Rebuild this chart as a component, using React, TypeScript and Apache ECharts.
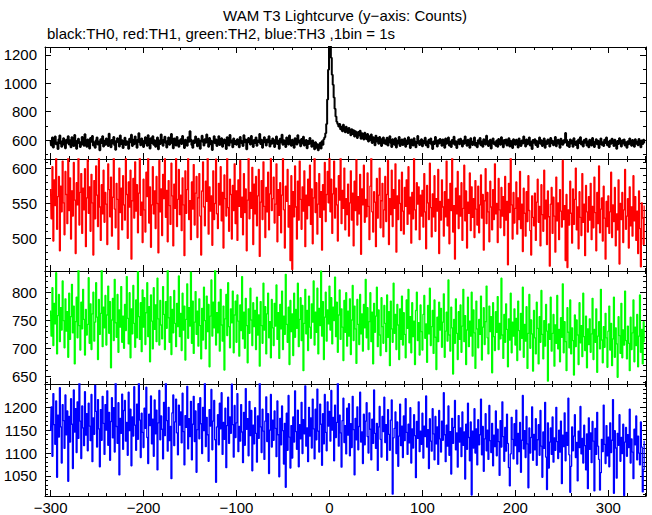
import React, { useEffect, useRef } from "react";
import * as echarts from "echarts";

// 1 bin = 1 s, first bin at t = -300 s
const X_START = -300;

// TH0 (black)
const th0 = [
  596, 561, 618, 547, 589, 624, 570, 583, 536, 605, 631, 574, 552, 593, 612, 565, 541, 601, 580, 627,
  568, 599, 549, 620, 582, 557, 635, 597, 538, 576, 609, 587, 550, 566, 622, 591, 560, 641, 579, 553,
  603, 571, 540, 615, 588, 629, 562, 584, 546, 598, 617, 569, 590, 528, 606, 578, 626, 555, 595, 566,
  611, 580, 558, 644, 586, 548, 600, 575, 621, 563, 532, 594, 613, 582, 554, 632, 572, 599, 543, 587,
  616, 564, 592, 577, 539, 608, 585, 637, 558, 602, 570, 625, 581, 545, 604, 648, 583, 563, 611, 589,
  551, 597, 620, 574, 560, 633, 590, 540, 612, 578, 627, 566, 599, 553, 588, 618, 535, 596, 572, 639,
  584, 559, 604, 623, 579, 547, 595, 617, 567, 590, 642, 576, 542, 610, 585, 561, 621, 598, 552, 583,
  606, 571, 628, 593, 544, 601, 580, 560, 619, 587, 662, 603, 564, 546, 596, 578, 624, 584, 556, 609,
  575, 538, 599, 630, 586, 561, 605, 581, 638, 592, 553, 615, 570, 595, 530, 587, 626, 577, 603, 558,
  598, 627, 565, 588, 613, 552, 581, 604, 574, 537, 619, 590, 561, 636, 583, 597, 548, 610, 571, 593,
  566, 606, 586, 549, 622, 596, 575, 557, 633, 585, 603, 534, 580, 614, 590, 568, 628, 587, 551, 600,
  578, 617, 560, 596, 586, 643, 571, 601, 545, 590, 620, 580, 562, 604, 584, 627, 555, 595, 573, 611,
  586, 550, 601, 625, 572, 594, 539, 609, 582, 637, 566, 598, 577, 551, 618, 589, 569, 631, 584, 559,
  602, 580, 546, 612, 588, 568, 634, 583, 597, 556, 607, 576, 623, 562, 586, 600, 541, 593, 572, 614,
  576, 553, 596, 560, 535, 585, 545, 570, 528, 556, 579, 540, 592, 566, 606, 620, 648, 712, 885, 1095,
  1310, 1290, 1180, 1060, 990, 900, 820, 765, 728, 712, 695, 712, 676, 694, 662, 708, 671, 655, 693, 666,
  650, 684, 658, 633, 675, 642, 669, 625, 661, 638, 614, 657, 631, 665, 609, 648, 622, 603, 651, 618,
  605, 643, 589, 627, 598, 638, 578, 620, 594, 563, 630, 590, 614, 574, 622, 585, 557, 609, 617, 576,
  599, 570, 616, 561, 593, 627, 578, 551, 606, 584, 566, 613, 547, 597, 576, 621, 558, 591, 603, 564,
  588, 610, 553, 596, 571, 620, 580, 543, 603, 584, 561, 612, 591, 549, 576, 628, 597, 565, 583, 606,
  556, 595, 577, 616, 563, 589, 549, 602, 579, 611, 566, 537, 590, 572, 621, 582, 554, 599, 575, 607,
  581, 559, 604, 583, 546, 610, 573, 595, 617, 562, 587, 551, 600, 576, 623, 566, 591, 543, 580, 603,
  570, 608, 586, 555, 597, 574, 625, 579, 559, 601, 584, 545, 612, 592, 565, 585, 618, 561, 578, 549,
  599, 576, 614, 563, 589, 553, 606, 582, 569, 630, 594, 558, 580, 602, 540, 590, 611, 572, 584, 560,
  596, 552, 607, 581, 566, 619, 587, 548, 600, 575, 604, 562, 586, 613, 555, 594, 578, 543, 606, 582,
  566, 601, 588, 547, 611, 580, 558, 596, 575, 624, 585, 554, 604, 570, 590, 617, 562, 587, 536, 600,
  581, 606, 565, 593, 551, 586, 618, 573, 598, 557, 585, 610, 546, 591, 571, 603, 580, 554, 614, 577,
  594, 563, 587, 621, 556, 583, 602, 572, 545, 608, 588, 566, 598, 580, 650, 601, 560, 586, 550, 604,
  575, 597, 553, 612, 585, 564, 591, 541, 603, 578, 620, 568, 588, 555, 600, 581, 609, 561, 589, 548,
  602, 577, 562, 614, 590, 551, 583, 605, 570, 595, 544, 587, 611, 566, 585, 557, 601, 578, 618, 563,
  588, 550, 597, 574, 608, 581, 558, 601, 586, 539, 593, 571, 612, 580, 555, 598, 575, 604, 561, 585,
  546, 592, 570, 610, 583, 559, 600, 578, 552, 605, 574, 589, 563, 607, 582, 549, 596, 571, 602, 577,
];

// TH1 (red)
const th1 = [
  571, 528, 603, 496, 584, 547, 622, 513, 560, 589, 482, 575, 538, 611, 551, 505, 596, 563, 521, 617,
  540, 587, 499, 568, 532, 609, 555, 478, 580, 548, 626, 519, 566, 593, 507, 572, 541, 600, 488, 558,
  613, 536, 574, 510, 592, 551, 476, 583, 528, 604, 562, 517, 619, 545, 497, 577, 535, 598, 523, 566,
  549, 491, 607, 570, 531, 588, 503, 559, 624, 542, 515, 579, 556, 484, 601, 537, 572, 512, 590, 548,
  526, 618, 563, 500, 581, 545, 598, 470, 554, 586, 529, 610, 539, 577, 508, 565, 621, 533, 552, 494,
  585, 541, 509, 595, 560, 627, 522, 574, 487, 548, 603, 535, 568, 514, 589, 550, 479, 612, 538, 571,
  504, 592, 557, 616, 530, 569, 495, 583, 547, 520, 608, 561, 489, 578, 543, 625, 517, 556, 599, 534,
  562, 511, 587, 548, 475, 597, 536, 570, 615, 527, 554, 498, 581, 542, 606, 519, 565, 589, 501, 558,
  593, 532, 476, 568, 610, 545, 518, 582, 553, 629, 506, 574, 539, 561, 490, 597, 527, 550, 614, 535,
  514, 579, 548, 603, 525, 566, 486, 591, 557, 532, 618, 544, 510, 585, 563, 499, 576, 540, 607, 521,
  568, 497, 584, 546, 612, 530, 559, 505, 593, 537, 571, 482, 555, 620, 528, 566, 543, 602, 491, 578,
  535, 589, 518, 561, 599, 474, 552, 583, 527, 610, 546, 501, 573, 538, 595, 512, 564, 629, 540, 557,
  588, 522, 549, 607, 495, 570, 533, 580, 508, 562, 617, 541, 486, 575, 553, 599, 516, 547, 468, 590,
  455, 567, 531, 604, 545, 499, 582, 526, 611, 556, 513, 574, 539, 597, 488, 562, 528, 585, 547, 605,
  520, 571, 492, 558, 616, 537, 580, 506, 549, 593, 530, 567, 483, 577, 541, 609, 524, 563, 596, 551,
  622, 538, 585, 507, 564, 611, 529, 572, 548, 496, 590, 555, 618, 521, 569, 543, 601, 512, 557, 534,
  578, 503, 551, 597, 526, 565, 489, 582, 540, 613, 519, 560, 535, 592, 477, 571, 548, 605, 523, 556,
  531, 594, 546, 498, 575, 620, 538, 509, 567, 552, 488, 586, 529, 562, 601, 515, 554, 579, 502, 541,
  589, 524, 563, 612, 491, 557, 534, 598, 517, 570, 543, 607, 480, 561, 527, 584, 550, 511, 595, 539,
  506, 573, 546, 584, 520, 603, 535, 559, 493, 566, 528, 616, 541, 512, 580, 549, 574, 498, 562, 532,
  569, 516, 593, 538, 485, 576, 551, 527, 608, 544, 502, 564, 531, 590, 510, 557, 539, 599, 478, 553,
  526, 584, 545, 503, 567, 531, 611, 518, 556, 492, 579, 540, 621, 509, 547, 470, 572, 535, 596, 514,
  561, 532, 580, 497, 543, 605, 525, 568, 486, 552, 536, 594, 511, 574, 530, 557, 501, 583, 542, 519,
  575, 508, 548, 591, 529, 563, 483, 554, 600, 521, 566, 538, 495, 582, 545, 512, 570, 527, 607, 535,
  550, 494, 586, 541, 515, 573, 532, 560, 504, 589, 526, 553, 462, 579, 537, 624, 548, 499, 566, 522,
  543, 581, 506, 558, 527, 596, 514, 549, 481, 572, 536, 503, 567, 524, 590, 540, 511, 476, 561, 530,
  518, 565, 497, 552, 585, 523, 546, 489, 577, 534, 510, 598, 528, 555, 491, 568, 531, 460, 549, 573,
  507, 559, 532, 480, 588, 525, 551, 498, 570, 539, 516, 612, 527, 547, 468, 563, 458, 541, 519, 582,
  536, 493, 571, 520, 556, 601, 512, 545, 485, 567, 530, 504, 593, 523, 549, 475, 576, 538, 509, 560,
  526, 579, 498, 546, 515, 588, 537, 482, 566, 521, 604, 508, 542, 558, 496, 575, 529, 470, 553, 517,
  561, 507, 538, 595, 501, 548, 524, 573, 489, 535, 512, 584, 463, 550, 527, 566, 494, 541, 599, 513,
  532, 557, 486, 574, 518, 545, 503, 590, 525, 560, 497, 539, 478, 568, 514, 459, 551, 529, 491, 547,
];

// TH2 (green)
const th2 = [
  768, 722, 809, 705, 781, 744, 836, 690, 759, 797, 712, 773, 733, 821, 750, 701, 789, 731, 766, 684,
  799, 716, 757, 815, 728, 776, 672, 748, 792, 719, 841, 741, 697, 783, 735, 806, 752, 688, 770, 724,
  743, 827, 709, 780, 698, 762, 801, 713, 747, 818, 756, 680, 788, 725, 763, 845, 703, 774, 737, 795,
  706, 760, 812, 727, 784, 665, 751, 790, 714, 824, 746, 720, 797, 693, 769, 738, 811, 711, 758, 700,
  779, 732, 829, 754, 708, 800, 683, 771, 726, 813, 745, 702, 787, 719, 838, 757, 716, 782, 694, 805,
  738, 791, 707, 764, 818, 721, 775, 676, 796, 749, 699, 809, 734, 778, 712, 826, 753, 706, 786, 742,
  717, 811, 761, 698, 784, 736, 849, 755, 711, 793, 689, 770, 728, 804, 745, 703, 781, 739, 830, 721,
  763, 696, 799, 733, 776, 679, 752, 816, 718, 773, 740, 837, 709, 785, 691, 747, 802, 725, 767, 704,
  789, 741, 681, 772, 715, 810, 750, 699, 794, 730, 779, 667, 758, 823, 722, 783, 737, 842, 706, 764,
  728, 783, 695, 806, 742, 713, 776, 661, 753, 797, 723, 818, 739, 701, 771, 746, 803, 692, 760, 785,
  711, 796, 749, 686, 778, 732, 829, 717, 765, 700, 790, 741, 674, 771, 727, 808, 751, 705, 782, 739,
  768, 698, 792, 724, 760, 668, 784, 741, 709, 817, 733, 775, 690, 762, 799, 719, 748, 683, 788, 737,
  705, 781, 740, 814, 716, 764, 682, 779, 735, 803, 698, 758, 725, 833, 743, 711, 774, 671, 786, 730,
  762, 687, 799, 720, 770, 736, 817, 703, 752, 791, 714, 777, 660, 745, 806, 726, 768, 696, 794, 738,
  718, 780, 747, 821, 706, 765, 729, 808, 690, 772, 741, 839, 722, 784, 680, 756, 801, 713, 769, 744,
  812, 733, 791, 708, 774, 750, 828, 721, 783, 693, 760, 805, 716, 771, 738, 678, 786, 729, 800, 704,
  767, 722, 789, 689, 751, 813, 714, 776, 735, 673, 788, 743, 707, 797, 726, 762, 695, 779, 737, 824,
  719, 773, 698, 748, 800, 712, 765, 672, 781, 729, 758, 810, 703, 769, 724, 687, 791, 739, 709, 777,
  745, 694, 796, 720, 766, 669, 785, 735, 711, 817, 727, 761, 698, 779, 742, 680, 771, 716, 794, 706,
  764, 725, 683, 787, 736, 806, 710, 757, 692, 782, 721, 749, 671, 768, 801, 714, 746, 688, 778, 730,
  697, 761, 795, 718, 744, 675, 777, 726, 808, 705, 739, 768, 691, 787, 720, 662, 756, 712, 783, 733,
  772, 702, 747, 798, 684, 731, 765, 713, 823, 724, 695, 774, 737, 654, 752, 709, 789, 727, 680, 766,
  716, 778, 693, 740, 806, 712, 759, 671, 733, 792, 703, 749, 722, 801, 686, 769, 728, 664, 785, 735,
  701, 752, 725, 794, 679, 738, 773, 707, 748, 812, 719, 690, 776, 730, 757, 656, 782, 721, 696, 766,
  729, 793, 698, 745, 717, 826, 724, 682, 761, 711, 780, 734, 667, 753, 715, 799, 692, 747, 722, 771,
  706, 754, 678, 785, 732, 697, 763, 718, 810, 684, 743, 713, 775, 664, 727, 797, 700, 751, 726, 659,
  768, 719, 690, 783, 736, 672, 757, 711, 804, 725, 681, 750, 704, 779, 731, 641, 744, 716, 792, 695,
  727, 761, 668, 742, 709, 795, 699, 734, 676, 755, 720, 816, 692, 748, 712, 660, 773, 729, 701, 787,
  690, 737, 714, 652, 760, 703, 751, 724, 671, 782, 710, 741, 685, 799, 721, 696, 758, 665, 735, 707,
  753, 693, 726, 790, 680, 734, 711, 771, 657, 722, 748, 699, 806, 715, 674, 739, 702, 763, 719, 666,
  731, 776, 697, 745, 669, 717, 792, 684, 737, 708, 648, 757, 723, 691, 781, 683, 733, 706, 803, 714,
  681, 740, 709, 660, 756, 698, 728, 787, 676, 738, 705, 761, 667, 722, 796, 693, 734, 672, 748, 711,
];

// TH3 (blue)
const th3 = [
  1148, 1201, 1093, 1230, 1162, 1119, 1214, 1047, 1183, 1135, 1243, 1157, 1078, 1206, 1171, 1110, 1227, 1140, 1192, 1038,
  1180, 1124, 1219, 1163, 1066, 1238, 1146, 1197, 1101, 1212, 1132, 1256, 1170, 1088, 1203, 1155, 1116, 1234, 1139, 1186,
  1105, 1209, 1159, 1127, 1228, 1081, 1177, 1141, 1248, 1191, 1113, 1217, 1153, 1070, 1195, 1128, 1224, 1165, 1097, 1206,
  1150, 1236, 1117, 1189, 1084, 1169, 1221, 1133, 1199, 1102, 1262, 1158, 1121, 1210, 1052, 1176, 1143, 1229, 1108, 1193,
  1215, 1126, 1167, 1095, 1233, 1149, 1196, 1072, 1179, 1137, 1245, 1161, 1106, 1207, 1130, 1270, 1172, 1090, 1187, 1145,
  1112, 1198, 1154, 1244, 1134, 1077, 1185, 1160, 1225, 1120, 1174, 1093, 1216, 1142, 1194, 1063, 1166, 1237, 1129, 1181,
  1152, 1087, 1211, 1138, 1254, 1171, 1104, 1200, 1127, 1158, 1044, 1188, 1227, 1116, 1168, 1218, 1144, 1096, 1205, 1161,
  1190, 1122, 1231, 1147, 1074, 1182, 1156, 1246, 1109, 1175, 1136, 1213, 1085, 1163, 1224, 1125, 1192, 1058, 1151, 1208,
  1131, 1221, 1164, 1099, 1200, 1149, 1265, 1114, 1178, 1140, 1082, 1195, 1159, 1239, 1107, 1170, 1215, 1129, 1036, 1157,
  1184, 1118, 1209, 1153, 1232, 1097, 1167, 1130, 1198, 1068, 1160, 1222, 1121, 1179, 1143, 1251, 1162, 1091, 1204, 1134,
  1166, 1230, 1103, 1158, 1126, 1206, 1146, 1079, 1189, 1117, 1241, 1152, 1175, 1094, 1213, 1138, 1193, 1061, 1161, 1120,
  1199, 1143, 1080, 1181, 1132, 1258, 1157, 1101, 1196, 1148, 1086, 1170, 1223, 1125, 1186, 1055, 1150, 1228, 1113, 1172,
  1128, 1192, 1154, 1092, 1214, 1140, 1048, 1176, 1118, 1203, 1149, 1076, 1165, 1025, 1187, 1106, 1226, 1135, 1067, 1160,
  1089, 1179, 1124, 1236, 1147, 1108, 1194, 1070, 1162, 1131, 1211, 1099, 1173, 1142, 1247, 1115, 1155, 1081, 1200, 1137,
  1177, 1111, 1218, 1153, 1087, 1196, 1129, 1240, 1148, 1102, 1207, 1163, 1073, 1186, 1120, 1228, 1145, 1105, 1212, 1159,
  1191, 1126, 1237, 1150, 1178, 1083, 1205, 1134, 1167, 1255, 1115, 1183, 1144, 1069, 1171, 1220, 1123, 1160, 1098, 1198,
  1139, 1208, 1094, 1164, 1112, 1224, 1151, 1052, 1176, 1129, 1201, 1107, 1158, 1233, 1124, 1146, 1077, 1185, 1118, 1170,
  1210, 1136, 1100, 1188, 1152, 1085, 1174, 1121, 1238, 1143, 1110, 1165, 1062, 1157, 1202, 1130, 1091, 1180, 1147, 1222,
  1123, 1162, 1084, 1195, 1141, 1106, 1172, 1216, 1010, 1133, 1154, 1190, 1099, 1168, 1071, 1137, 1207, 1116, 1159, 1090,
  1181, 1127, 1219, 1145, 1097, 1163, 1122, 1199, 1078, 1153, 1111, 1184, 1138, 1046, 1169, 1132, 1212, 1103, 1148, 1119,
  1187, 1089, 1159, 1136, 1225, 1113, 1151, 1066, 1175, 1126, 1104, 1197, 1142, 1085, 1180, 1120, 1157, 1075, 1193, 1131,
  1102, 1170, 1128, 1232, 1140, 1081, 1161, 1115, 1203, 1095, 1147, 1054, 1176, 1121, 1156, 1215, 1107, 1144, 1069, 1182,
  1124, 1155, 1092, 1190, 1117, 1146, 1043, 1163, 1108, 1209, 1134, 1083, 1168, 1008, 1148, 1111, 1197, 1100, 1153, 1074,
  1173, 1118, 1140, 1218, 1096, 1158, 1060, 1131, 1186, 1105, 1150, 1086, 1204, 1127, 1101, 1165, 1072, 1139, 1114, 1192,
  1094, 1152, 1125, 1051, 1171, 1113, 1212, 1136, 1082, 1156, 1104, 1185, 1121, 1068, 1028, 1098, 1178, 1130, 1087, 1164,
  1116, 1194, 1076, 1143, 1103, 1167, 1058, 1128, 1226, 1109, 1149, 1090, 1180, 1120, 1024, 1155, 1100, 1134, 1201, 1084,
  1141, 1107, 1175, 1073, 1129, 1162, 1095, 1193, 1115, 1047, 1146, 1110, 1211, 1091, 1020, 1166, 1067, 1124, 1155, 1097,
  1179, 1080, 1133, 1106, 1200, 1125, 1088, 1150, 1102, 1170, 1033, 1139, 1114, 1188, 1083, 1145, 1117, 1220, 1096, 1014,
  1071, 1157, 1105, 1137, 1184, 1090, 1123, 1039, 1148, 1112, 1202, 1098, 1132, 1078, 1161, 1116, 1063, 1142, 1022, 1177,
  1108, 1144, 1079, 1169, 1126, 1017, 1154, 1097, 1189, 1115, 1086, 1019, 1057, 1130, 1103, 1205, 1119, 1077, 1160, 1094,
  1135, 1070, 1166, 1101, 1128, 1217, 1012, 1149, 1111, 1045, 1143, 1117, 1184, 1082, 1134, 1099, 1163, 1007, 1124, 1156,
  1093, 1140, 1112, 1196, 1078, 1131, 1102, 1044, 1152, 1118, 1181, 1085, 1137, 1100, 1074, 1168, 1113, 1015, 1064, 1127,
];

// Axis ticks / labels
const xTickLabels = [-300, -200, -100, 0, 100, 200, 300];
const y0Ticks = [600, 800, 1000, 1200];
const y1Ticks = [500, 550, 600];
const y2Ticks = [650, 700, 750, 800];
const y3Ticks = [1050, 1100, 1150, 1200];

const TITLE = "WAM T3 Lightcurve (y\u2212axis: Counts)";
const SUBTITLE = "black:TH0, red:TH1, green:TH2, blue:TH3 ,1bin = 1s";

const FONT = "'Liberation Sans', Arial, Helvetica, sans-serif";
const X_MIN = -306;
const X_MAX = 340.5;

function range(a: number, b: number, step: number) {
  const out: number[] = [];
  for (let v = a; v <= b + 1e-9; v += step) out.push(v);
  return out;
}

const panels = [
  { name: "TH0", data: th0, color: "#000000", width: 2, min: 466, max: 1256, major: y0Ticks, minor: range(500, 1200, 100), top: 47, height: 112 },
  { name: "TH1", data: th1, color: "#ff0000", width: 1.3, min: 453, max: 614, major: y1Ticks, minor: range(460, 610, 10), top: 159, height: 112 },
  { name: "TH2", data: th2, color: "#00ff00", width: 1.3, min: 636, max: 839, major: y2Ticks, minor: range(640, 830, 10), top: 271, height: 113 },
  { name: "TH3", data: th3, color: "#0000ff", width: 1.3, min: 1006, max: 1251, major: y3Ticks, minor: range(1010, 1250, 10), top: 384, height: 112 },
];

const minus = (v: number) => String(v).replace("-", "\u2212");
const plain = (v: number) => String(v);

export default function App() {
  const ref = useRef<HTMLDivElement>(null);
  useEffect(() => {
    if (!ref.current) return;
    const chart = echarts.init(ref.current, undefined, { renderer: "svg" });
    const xMinor = range(-300, 340, 20);
    const grids: any[] = [];
    const xAxes: any[] = [];
    const yAxes: any[] = [];
    const series: any[] = [];
    const line = { show: true, onZero: false, lineStyle: { color: "#000", width: 1 } };
    const noLine = { show: false, onZero: false };
    panels.forEach((p, g) => {
      const last = g === panels.length - 1;
      grids.push({ left: 45, right: 6, top: p.top, height: p.height, containLabel: false });
      const xc = { gridIndex: g, type: "value", min: X_MIN, max: X_MAX, splitLine: { show: false } };
      xAxes.push({
        ...xc, position: "bottom", axisLine: line,
        axisTick: { show: true, inside: true, length: 6, customValues: xTickLabels, lineStyle: { color: "#000" } },
        axisLabel: { show: last, customValues: xTickLabels, formatter: minus, color: "#000", fontSize: 15, fontFamily: FONT, margin: 4 },
      });
      xAxes.push({
        ...xc, position: "top", axisLine: line,
        axisTick: { show: true, inside: true, length: 6, customValues: xTickLabels, lineStyle: { color: "#000" } },
        axisLabel: { show: false },
      });
      xAxes.push({
        ...xc, position: "bottom", axisLine: noLine,
        axisTick: { show: true, inside: true, length: 3, customValues: xMinor, lineStyle: { color: "#000" } },
        axisLabel: { show: false },
      });
      xAxes.push({
        ...xc, position: "top", axisLine: noLine,
        axisTick: { show: true, inside: true, length: 3, customValues: xMinor, lineStyle: { color: "#000" } },
        axisLabel: { show: false },
      });
      const yc = { gridIndex: g, type: "value", min: p.min, max: p.max, splitLine: { show: false } };
      yAxes.push({
        ...yc, position: "left", axisLine: line,
        axisTick: { show: true, inside: true, length: 6, customValues: p.major, lineStyle: { color: "#000" } },
        axisLabel: { show: true, customValues: p.major, formatter: plain, color: "#000", fontSize: 15, fontFamily: FONT, margin: 8 },
      });
      yAxes.push({
        ...yc, position: "right", axisLine: line,
        axisTick: { show: true, inside: true, length: 6, customValues: p.major, lineStyle: { color: "#000" } },
        axisLabel: { show: false },
      });
      yAxes.push({
        ...yc, position: "left", axisLine: noLine,
        axisTick: { show: true, inside: true, length: 3, customValues: p.minor, lineStyle: { color: "#000" } },
        axisLabel: { show: false },
      });
      yAxes.push({
        ...yc, position: "right", axisLine: noLine,
        axisTick: { show: true, inside: true, length: 3, customValues: p.minor, lineStyle: { color: "#000" } },
        axisLabel: { show: false },
      });
      series.push({
        name: p.name,
        type: "line",
        xAxisIndex: g * 4,
        yAxisIndex: g * 4,
        data: p.data.map((v, i) => [X_START + i, v]),
        step: "middle",
        showSymbol: false,
        symbol: "none",
        clip: true,
        lineStyle: { color: p.color, width: p.width },
        itemStyle: { color: p.color },
        z: 1,
      });
    });
    chart.setOption({
      animation: false,
      backgroundColor: "#ffffff",
      title: [
        { text: TITLE, left: 345, textAlign: "center", top: 8, padding: 0, textStyle: { fontSize: 15, fontWeight: "normal", color: "#000", fontFamily: FONT } },
        { text: SUBTITLE, left: 47, top: 26, padding: 0, textStyle: { fontSize: 15, fontWeight: "normal", color: "#000", fontFamily: FONT } },
      ],
      grid: grids,
      xAxis: xAxes,
      yAxis: yAxes,
      series,
    });
    return () => chart.dispose();
  }, []);
  return <div ref={ref} style={{ position: "fixed", left: 0, top: 0, width: 652, height: 515 }} />;
}
